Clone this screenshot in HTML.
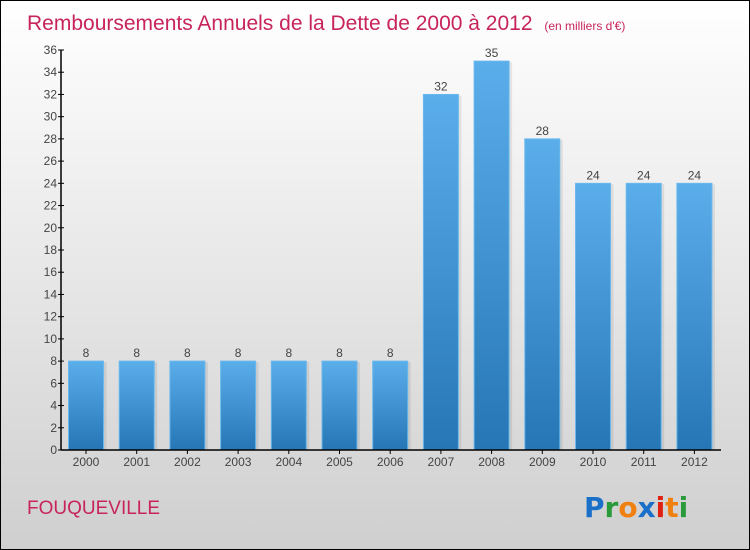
<!DOCTYPE html>
<html><head><meta charset="utf-8"><style>
body{margin:0}
#c{position:relative;width:748px;height:548px;border:1px solid #000;background:linear-gradient(#ffffff,#cfcfcf);font-family:"Liberation Sans",sans-serif;overflow:hidden}
</style></head><body>
<div id="c">
<svg id="s" width="748" height="548" style="position:absolute;left:0;top:0">
<defs><linearGradient id="bg" x1="0" y1="0" x2="0" y2="1"><stop offset="0" stop-color="#5aaeea"/><stop offset="1" stop-color="#2676b6"/></linearGradient></defs>
<text x="26" y="29" font-size="21" fill="#c8245c">Remboursements Annuels de la Dette de 2000 à 2012 <tspan font-size="12" dx="6">(en milliers d'€)</tspan></text>
<text x="26" y="513" font-size="19" fill="#c8245c">FOUQUEVILLE</text>
<g font-size="28" font-weight="bold" font-family="'DejaVu Sans',sans-serif"><text x="583" y="516"><tspan fill="#1a6fc8">P</tspan><tspan fill="#2a9a3a">r</tspan><tspan fill="#f08010">o</tspan><tspan fill="#1a6fc8">x</tspan><tspan fill="#e02010">i</tspan><tspan fill="#f08010">t</tspan><tspan fill="#2a9a3a">i</tspan></text></g>
<g id="g"></g>
</svg>
</div>
<script>
const categories=["2000","2001","2002","2003","2004","2005","2006","2007","2008","2009","2010","2011","2012"];
const values=[8,8,8,8,8,8,8,32,35,28,24,24,24];
const yTicks=[0,2,4,6,8,10,12,14,16,18,20,22,24,26,28,30,32,34,36];
const NS="http://www.w3.org/2000/svg",g=document.getElementById('g');
const x0=60,y0=449,yTop=49,yMax=36,step=50.7,firstC=85,bw=35;
const y=v=>y0-(y0-yTop)*v/yMax, xc=i=>firstC+i*step;
function el(t,a,txt){const e=document.createElementNS(NS,t);for(const k in a)e.setAttribute(k,a[k]);if(txt!=null)e.textContent=txt;g.appendChild(e);return e;}
values.forEach((v,i)=>{
const sh=el('rect',{x:xc(i)-bw/2+3,y:y(v)+1,width:bw,height:y0-y(v)-1,fill:'rgba(0,0,0,0.08)'});


const r=el('rect',{x:xc(i)-bw/2,y:y(v),width:bw,height:y0-y(v),fill:'url(#bg)',stroke:'#6ab8ee','stroke-width':1});


const t=el('text',{x:xc(i),y:y(v)-4,'font-size':12,fill:'#444','text-anchor':'middle'},String(v));


const tk=el('line',{x1:xc(i),x2:xc(i),y1:y0,y2:y0+4,stroke:'#000'});


const xl=el('text',{x:xc(i),y:y0+16,'font-size':12,fill:'#444','text-anchor':'middle'},categories[i]);


});
yTicks.forEach(v=>{
const l=el('line',{x1:x0-3,x2:x0+3,y1:y(v),y2:y(v),stroke:'#000'});


const t=el('text',{x:x0-4,y:y(v)+4,'font-size':12,fill:'#444','text-anchor':'end'},String(v));


});
const ya=el('line',{x1:x0,x2:x0,y1:yTop,y2:y0,stroke:'#000','stroke-width':1.5});


const xa=el('line',{x1:x0,x2:720,y1:y0,y2:y0,stroke:'#000','stroke-width':1.5});


</script>
</body></html>
